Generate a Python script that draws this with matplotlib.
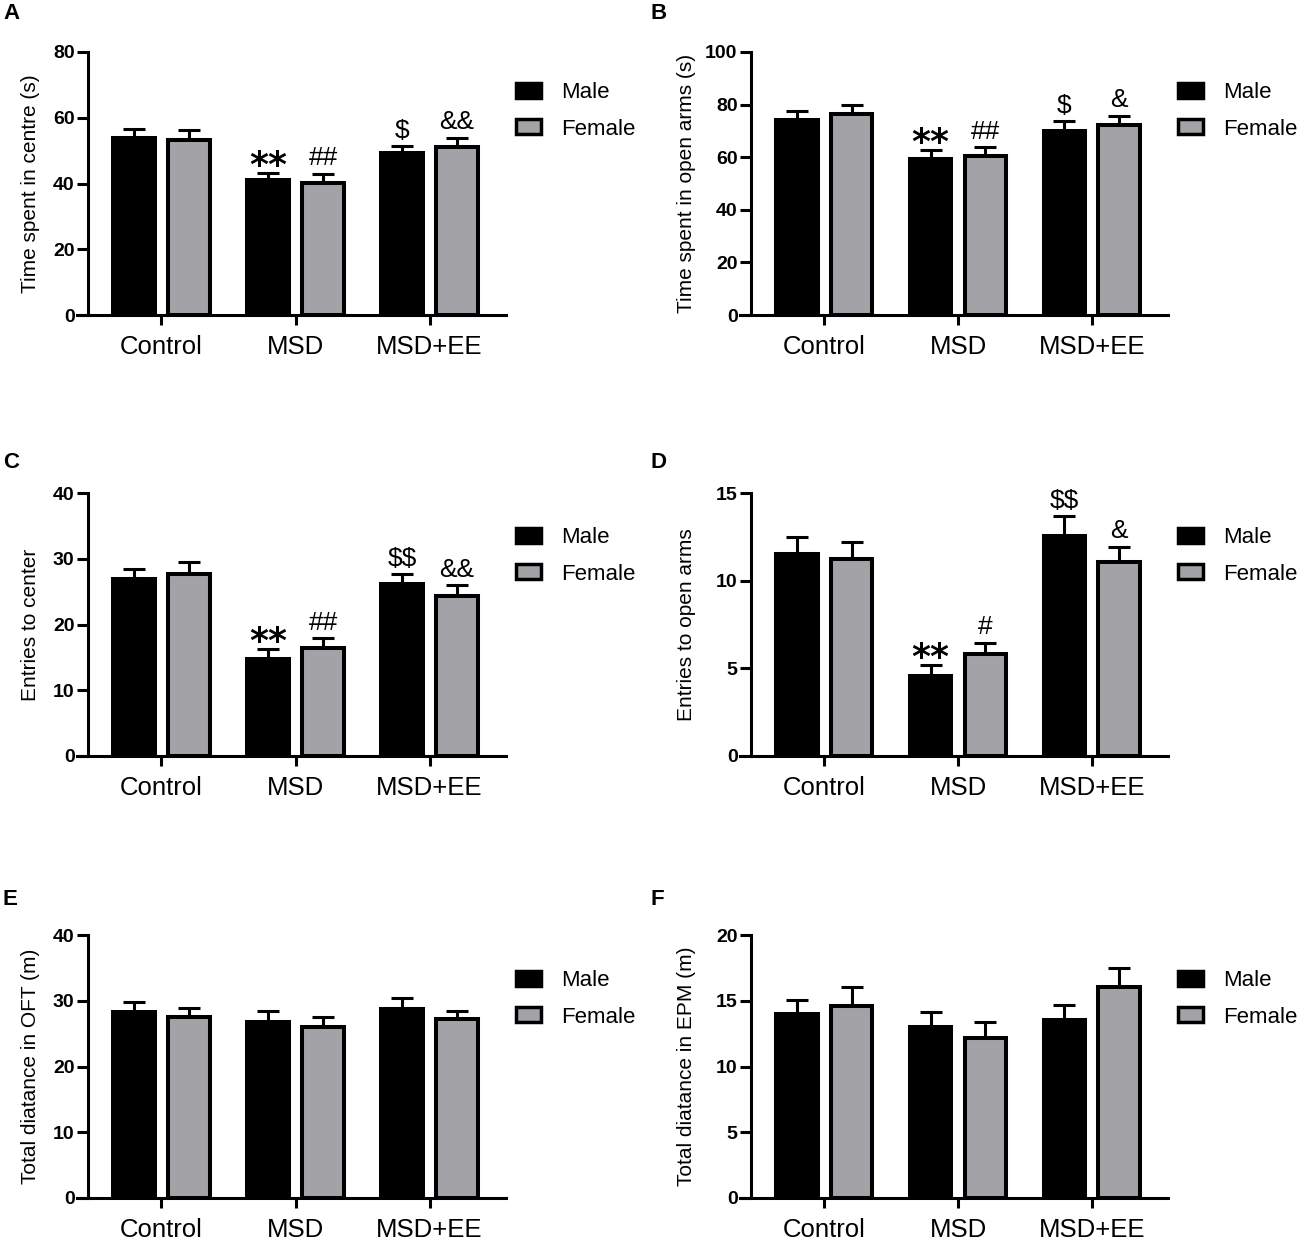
import matplotlib
matplotlib.use("Agg")
import matplotlib.pyplot as plt
from matplotlib.patches import Patch
from matplotlib.transforms import blended_transform_factory
import numpy as np

plt.rcParams['font.family'] = ['Liberation Sans', 'DejaVu Sans']
plt.rcParams['text.parse_math'] = False

groups = ['Control', 'MSD', 'MSD+EE']
sexes = ['Male', 'Female']

A_male = [53.9, 41.0, 49.2]
A_male_err = [2.6, 2.1, 2.1]
A_female = [53.2, 40.2, 51.0]
A_female_err = [3.1, 2.8, 2.9]

B_male = [74.3, 59.4, 70.0]
B_male_err = [3.4, 3.4, 3.6]
B_female = [76.5, 60.4, 72.4]
B_female_err = [3.2, 3.4, 3.4]

C_male = [26.9, 14.8, 26.2]
C_male_err = [1.5, 1.4, 1.5]
C_female = [27.65, 16.4, 24.4]
C_female_err = [1.85, 1.5, 1.6]

D_male = [11.5, 4.58, 12.56]
D_male_err = [1.0, 0.59, 1.13]
D_female = [11.23, 5.84, 11.09]
D_female_err = [0.97, 0.63, 0.85]

E_male = [28.3, 26.8, 28.8]
E_male_err = [1.5, 1.6, 1.6]
E_female = [27.6, 26.0, 27.2]
E_female_err = [1.3, 1.6, 1.3]

F_male = [14.0, 13.0, 13.5]
F_male_err = [1.07, 1.15, 1.19]
F_female = [14.57, 12.2, 16.05]
F_female_err = [1.45, 1.2, 1.45]

A_marks = [(1, 0, '**'), (1, 1, '##'), (2, 0, '$'), (2, 1, '&&')]
B_marks = [(1, 0, '**'), (1, 1, '##'), (2, 0, '$'), (2, 1, '&')]
C_marks = [(1, 0, '**'), (1, 1, '##'), (2, 0, '$$'), (2, 1, '&&')]
D_marks = [(1, 0, '**'), (1, 1, '#'), (2, 0, '$$'), (2, 1, '&')]

panels = [
    dict(letter='A', ylabel='Time spent in centre (s)', ymax=80, ystep=20,
         male=A_male, me=A_male_err, female=A_female, fe=A_female_err, marks=A_marks),
    dict(letter='B', ylabel='Time spent in open arms (s)', ymax=100, ystep=20,
         male=B_male, me=B_male_err, female=B_female, fe=B_female_err, marks=B_marks),
    dict(letter='C', ylabel='Entries to center', ymax=40, ystep=10,
         male=C_male, me=C_male_err, female=C_female, fe=C_female_err, marks=C_marks),
    dict(letter='D', ylabel='Entries to open arms', ymax=15, ystep=5,
         male=D_male, me=D_male_err, female=D_female, fe=D_female_err, marks=D_marks),
    dict(letter='E', ylabel='Total diatance in OFT (m)', ymax=40, ystep=10,
         male=E_male, me=E_male_err, female=E_female, fe=E_female_err, marks=[]),
    dict(letter='F', ylabel='Total diatance in EPM (m)', ymax=20, ystep=5,
         male=F_male, me=F_male_err, female=F_female, fe=F_female_err, marks=[]),
]

W, H = 1300, 1241
fig = plt.figure(figsize=(W / 100, H / 100), dpi=100)

col_x = [(77, 506), (740, 1168)]
row_y = [(52, 315), (493, 756), (935, 1198)]
ylabel_x = [40, 696]
letter_pos = [(3, 3), (651, 3), (3, 452), (651, 452), (3, 889), (651, 889)]
legend_top = [82, 527, 970]

GRAY = '#a3a3a7'
LW = 2.9
off = 0.205
bw = 0.31

for i, p in enumerate(panels):
    r, c = divmod(i, 2)
    x0, x1 = col_x[c]
    y0, y1 = row_y[r]
    ax = fig.add_axes([x0 / W, 1 - y1 / H, (x1 - x0) / W, (y1 - y0) / H])
    for s in ['top', 'right']:
        ax.spines[s].set_visible(False)
    ax.spines['left'].set_position(('data', -0.55))
    ax.spines['left'].set_linewidth(2.2)
    ax.spines['bottom'].set_linewidth(2.2)

    x = np.arange(len(groups))
    ax.bar(x - off, p['male'], width=bw, color='black', edgecolor='black', linewidth=LW, zorder=3)
    ax.bar(x + off, p['female'], width=bw, color=GRAY, edgecolor='black', linewidth=LW, zorder=3)
    ax.errorbar(x - off, p['male'], yerr=[np.zeros(3), p['me']], fmt='none', ecolor='black',
                elinewidth=2.2, capsize=8, capthick=2.2, zorder=2)
    ax.errorbar(x + off, p['female'], yerr=[np.zeros(3), p['fe']], fmt='none', ecolor='black',
                elinewidth=2.2, capsize=8, capthick=2.2, zorder=2)

    ax.set_xlim(-0.63, 2.57)
    ax.set_ylim(0, p['ymax'])
    yt = np.arange(0, p['ymax'] + 0.01, p['ystep'])
    ax.set_yticks(yt)
    ax.set_yticklabels([f'{v:g}' for v in yt], fontsize=14, fontweight='bold')
    ax.set_xticks(x)
    ax.set_xticklabels(groups, fontsize=18.5)
    ax.tick_params(axis='y', length=8, width=2.2, pad=1.5)
    ax.tick_params(axis='x', length=7.5, width=2.2, pad=7)
    ax.set_ylabel(p['ylabel'], fontsize=15)
    ax.yaxis.set_label_coords(ylabel_x[c] / W, 0.5,
                              transform=blended_transform_factory(fig.transFigure, ax.transAxes))

    tops_m = np.array(p['male']) + np.array(p['me'])
    tops_f = np.array(p['female']) + np.array(p['fe'])
    for g, s, txt in p['marks']:
        xx = g - off if s == 0 else g + off
        yy = tops_m[g] if s == 0 else tops_f[g]
        if '*' in txt:
            ax.annotate(txt, (xx, yy), xytext=(0, -2), textcoords='offset points',
                        ha='center', va='baseline', fontsize=26, fontweight='bold',
                        family='DejaVu Sans')
        else:
            ax.annotate(txt, (xx, yy), xytext=(0, 6), textcoords='offset points',
                        ha='center', va='baseline', fontsize=19)

    handles = [Patch(facecolor='black', edgecolor='black', linewidth=2.5),
               Patch(facecolor=GRAY, edgecolor='black', linewidth=2.5)]
    lx = 516 if c == 0 else 1178
    ax.legend(handles, sexes, loc='upper left', bbox_to_anchor=(lx / W, 1 - legend_top[r] / H),
              bbox_transform=fig.transFigure, frameon=False, fontsize=16,
              handlelength=1.12, handleheight=0.68, handletextpad=0.9, labelspacing=0.7,
              borderpad=0, borderaxespad=0)

    lxp, lyp = letter_pos[i]
    fig.text(lxp / W, 1 - lyp / H, p['letter'], fontsize=16, fontweight='bold', va='top', ha='left')

fig.savefig('out.png', dpi=100)
